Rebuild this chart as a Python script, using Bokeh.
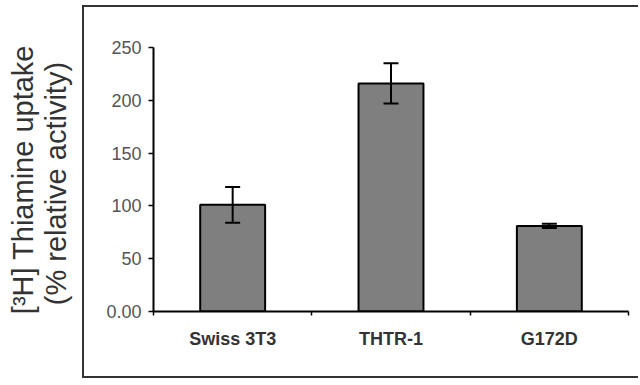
import math
from bokeh.plotting import figure
from bokeh.layouts import row
from bokeh.core.properties import value
from bokeh.models import (ColumnDataSource, Whisker, TeeHead, FixedTicker, Range1d)
from bokeh.embed import file_html
from bokeh.resources import INLINE

categories = ["Swiss 3T3", "THTR-1", "G172D"]
uptake = [101, 216, 81]
error = [17, 19, 2]
y_ticks = [0, 50, 100, 150, 200, 250]
y_tick_labels = ["0.00", "50", "100", "150", "200", "250"]
y_title = ["[\u00b3H] Thiamine uptake", "(% relative  activity)"]

xpos = [i + 0.5 for i in range(len(categories))]
src = ColumnDataSource(dict(
    x=xpos, top=uptake,
    upper=[u + e for u, e in zip(uptake, error)],
    lower=[u - e for u, e in zip(uptake, error)],
))

p = figure(width=556, height=373, output_backend="svg", toolbar_location=None,
           x_range=Range1d(0, len(categories)), y_range=Range1d(0, 250),
           min_border_left=69, min_border_right=12, min_border_top=40,
           min_border_bottom=69)
p.outline_line_color = None
p.xgrid.visible = False
p.ygrid.visible = False
p.background_fill_color = "white"
p.border_fill_color = "white"
p.styles = {"margin-top": "5px",
            "border-left": "2px solid #333333", "border-top": "2px solid #333333",
            "border-bottom": "2px solid #333333"}

p.vbar(x="x", top="top", width=0.41, bottom=0, source=src,
       fill_color="#7f7f7f", line_color="black", line_width=2)

w = Whisker(base="x", upper="upper", lower="lower", source=src, level="annotation",
            line_color="black", line_width=2,
            upper_head=TeeHead(size=15, line_color="black", line_width=2),
            lower_head=TeeHead(size=15, line_color="black", line_width=2))
p.add_layout(w)

# y axis
p.yaxis.ticker = FixedTicker(ticks=y_ticks, minor_ticks=[])
p.yaxis.major_label_overrides = {t: l for t, l in zip(y_ticks, y_tick_labels)}
p.yaxis.axis_line_color = "black"
p.yaxis.axis_line_width = 2
p.yaxis.major_tick_line_color = "black"
p.yaxis.major_tick_line_width = 1.5
p.yaxis.major_tick_out = 5
p.yaxis.major_tick_in = 0
p.yaxis.minor_tick_line_color = None
p.yaxis.major_label_standoff = 7
p.yaxis.major_label_text_font = "Liberation Sans"
p.yaxis.major_label_text_font_size = "18px"
p.yaxis.major_label_text_color = "#555555"

# x axis: labels at category centres, ticks on boundaries
p.xaxis.ticker = FixedTicker(ticks=xpos, minor_ticks=list(range(len(categories) + 1)))
p.xaxis.major_label_overrides = {x: c for x, c in zip(xpos, categories)}
p.xaxis.axis_line_color = "black"
p.xaxis.axis_line_width = 2
p.xaxis.major_tick_line_color = None
p.xaxis.major_tick_out = 0
p.xaxis.major_tick_in = 0
p.xaxis.minor_tick_line_color = "black"
p.xaxis.minor_tick_line_width = 1.5
p.xaxis.minor_tick_out = 4
p.xaxis.minor_tick_in = 0
p.xaxis.major_label_standoff = 13
p.xaxis.major_label_text_font = "Liberation Sans"
p.xaxis.major_label_text_font_style = "bold"
p.xaxis.major_label_text_font_size = "18px"
p.xaxis.major_label_text_color = "#333333"

# left panel holding the two-line y axis title
H = 385
lab = figure(width=82, height=H, output_backend="svg", toolbar_location=None,
             x_range=Range1d(0, 82), y_range=Range1d(0, H),
             x_axis_location=None, y_axis_location=None,
             min_border_left=0, min_border_right=0, min_border_top=0, min_border_bottom=0)
lab.grid.visible = False
lab.outline_line_color = None
lab.background_fill_color = "white"
lab.border_fill_color = "white"
lab.text(x=[22, 55], y=[H - 194, H - 194], text=y_title, angle=math.pi / 2,
         text_align="center", text_baseline="middle",
         text_font=value("Liberation Sans"), text_font_size="29px",
         text_color="#333333")

layout = row(lab, p, spacing=0)
open("out.html", "w").write(file_html(layout, INLINE))
